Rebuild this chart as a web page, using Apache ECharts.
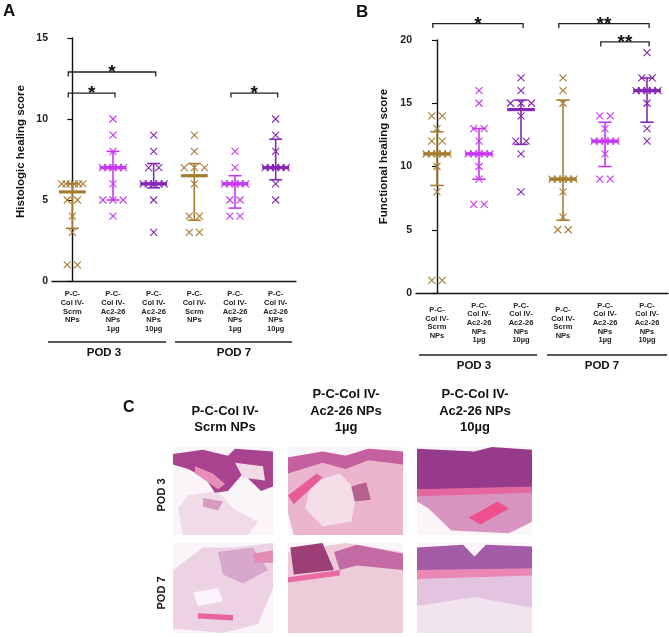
<!DOCTYPE html>
<html>
<head>
<meta charset="utf-8">
<script src="https://cdn.jsdelivr.net/npm/echarts@6/dist/echarts.min.js"></script>
<style>
html, body { margin: 0; padding: 0; background: #fff; }
#chart { width: 669px; height: 637px; }
</style>
</head>
<body>
<div id="chart"></div>
<script>
// groups on the x axis (same six for both panels)
const categories = [
    'P-C-\nCol IV-\nScrm\nNPs',
    'P-C-\nCol IV-\nAc2-26\nNPs\n1µg',
    'P-C-\nCol IV-\nAc2-26\nNPs\n10µg',
    'P-C-\nCol IV-\nScrm\nNPs',
    'P-C-\nCol IV-\nAc2-26\nNPs\n1µg',
    'P-C-\nCol IV-\nAc2-26\nNPs\n10µg'
];
const groupColors = ['#a67c2e', '#c837f5', '#8526b5', '#a67c2e', '#c837f5', '#8526b5'];
const podLabels = ['POD 3', 'POD 7'];

// A - histologic healing score, one list per animal group
const histoScores = [
    [6, 6, 6, 6, 6, 6, 5, 5, 4, 3, 1, 1],
    [10, 9, 8, 7, 7, 7, 7, 7, 6, 5, 5, 5, 4],
    [9, 8, 7, 7, 6, 6, 6, 6, 6, 5, 3],
    [9, 8, 7, 7, 7, 6, 4, 4, 3, 3],
    [8, 7, 6, 6, 6, 6, 6, 5, 5, 4, 4],
    [10, 9, 8, 7, 7, 7, 7, 7, 6, 5]
];
const histoMedian = [5.5, 7, 6, 6.5, 6, 7];
const histoLow = [3.25, 5, 5.75, 3.75, 4.5, 6.25];
const histoHigh = [6, 8, 7.25, 7.25, 6.5, 8.75];
// [from group, to group, height, stars]
const histoBrackets = [[0, 2, 12.9, '*'], [0, 1, 11.6, '*'], [4, 5, 11.6, '*']];

// B - functional healing score
const funcScores = [
    [14, 14, 13, 12, 12, 11, 11, 11, 11, 11, 10, 8, 1, 1],
    [16, 15, 13, 13, 12, 11, 11, 11, 11, 11, 10, 9, 7, 7],
    [17, 16, 15, 15, 15, 14, 12, 12, 11, 8],
    [17, 16, 15, 9, 9, 9, 9, 9, 8, 6, 5, 5],
    [14, 14, 13, 12, 12, 12, 12, 12, 11, 9, 9],
    [19, 17, 17, 16, 16, 16, 16, 16, 15, 13, 12]
];
const funcMedian = [11, 11, 14.5, 9, 12, 16];
const funcLow = [8.5, 9, 11.75, 5.75, 10, 13.5];
const funcHigh = [12.75, 13, 15.25, 15.25, 13.5, 17];
const funcBrackets = [[0, 2, 21.3, '*'], [3, 5, 21.3, '**'], [4, 5, 19.85, '**']];

const FONT = 'Liberation Sans, Arial, sans-serif';
const NARROW = 'Liberation Sans Narrow, Arial Narrow, Liberation Sans, sans-serif';
const CROSS = 'path://M0,0L10,10M10,0L0,10';

// equal scores sit side by side in a row, centred on the group
function spread(scores) {
    const counts = {};
    scores.forEach(v => counts[v] = (counts[v] || 0) + 1);
    const seen = {};
    return scores.map(v => {
        const n = counts[v];
        const k = seen[v] = (seen[v] || 0) + 1;
        const step = n === 1 ? 0 : n <= 3 ? 0.25 : 0.52 / (n - 1);
        return [(k - 1 - (n - 1) / 2) * step, v];
    });
}

function makePanel(xIdx, yIdx, scores, med, lo, hi, brackets) {
    const points = [];
    scores.forEach((list, i) => {
        spread(list).forEach(([dx, v]) => {
            points.push({ value: [i + dx, v], itemStyle: { borderColor: groupColors[i] } });
        });
    });
    return [
        {
            type: 'scatter', xAxisIndex: xIdx, yAxisIndex: yIdx,
            symbol: CROSS, symbolSize: 7,
            itemStyle: { color: 'rgba(0,0,0,0)', borderWidth: 1.1, opacity: 1 },
            data: points
        },
        {
            type: 'custom', xAxisIndex: xIdx, yAxisIndex: yIdx,
            data: med.map((m, i) => [i, m, lo[i], hi[i]]),
            renderItem(params, api) {
                const i = api.value(0);
                const mid = api.coord([i, api.value(1)]);
                const a = api.coord([i, api.value(2)]);
                const b = api.coord([i, api.value(3)]);
                const unit = api.size([1, 0])[0];
                const half = unit * 0.33, cap = unit * 0.16;
                const st = { stroke: groupColors[i], lineWidth: 1.6 };
                return {
                    type: 'group', children: [
                        { type: 'line', shape: { x1: a[0], y1: a[1], x2: b[0], y2: b[1] }, style: st },
                        { type: 'line', shape: { x1: a[0] - cap, y1: a[1], x2: a[0] + cap, y2: a[1] }, style: st },
                        { type: 'line', shape: { x1: b[0] - cap, y1: b[1], x2: b[0] + cap, y2: b[1] }, style: st },
                        { type: 'line', shape: { x1: mid[0] - half, y1: mid[1], x2: mid[0] + half, y2: mid[1] },
                          style: { stroke: groupColors[i], lineWidth: 3.2 } }
                    ]
                };
            }
        },
        {
            type: 'custom', xAxisIndex: xIdx, yAxisIndex: yIdx, clip: false,
            data: brackets.map(b => [b[0], b[1], b[2]]),
            renderItem(params, api) {
                const p1 = api.coord([api.value(0) - 0.1, api.value(2)]);
                const p2 = api.coord([api.value(1) + 0.05, api.value(2)]);
                return {
                    type: 'group', children: [
                        { type: 'polyline',
                          shape: { points: [[p1[0], p1[1] + 4.5], [p1[0], p1[1]], [p2[0], p2[1]], [p2[0], p2[1] + 4.5]] },
                          style: { stroke: '#222', lineWidth: 1.3, fill: null } },
                        { type: 'text',
                          style: { text: brackets[params.dataIndex][3], x: (p1[0] + p2[0]) / 2, y: p1[1] + 1,
                                   align: 'center', verticalAlign: 'middle',
                                   font: 'bold 19px ' + FONT, fill: '#111' } }
                    ]
                };
            }
        }
    ];
}

function catAxis(grid, labelStyle) {
    return {
        type: 'category', gridIndex: grid, data: categories,
        axisLine: { lineStyle: { color: '#111', width: 1.4 } },
        axisTick: { alignWithLabel: true, length: 4, lineStyle: { color: '#111', width: 1.2 } },
        axisLabel: Object.assign({
            interval: 0, fontSize: 7.5, lineHeight: 8.6, fontWeight: 'bold',
            fontFamily: NARROW, color: '#222'
        }, labelStyle)
    };
}

function valAxis(grid, max, name, gap, shift) {
    return {
        type: 'value', gridIndex: grid, min: 0, max: max, interval: 5,
        name: name, nameLocation: 'middle', nameGap: gap,
        nameTextStyle: { fontSize: 11.5, fontWeight: 'bold', fontFamily: FONT, color: '#111', padding: [0, 0, 0, shift] },
        axisLine: { show: true, lineStyle: { color: '#111', width: 1.4 } },
        axisTick: { show: true, length: 5, lineStyle: { color: '#111', width: 1.2 } },
        splitLine: { show: false },
        axisLabel: { fontSize: 10.5, fontWeight: 'bold', fontFamily: FONT, color: '#222', margin: 4 }
    };
}

// rough stand-ins for the H&E sections in panel C, points in 0..1 of each frame
const sections = [
    { x: 173, y: 447, w: 100, h: 88, shapes: [
        ['#f0dbe6', [[0.15, 0.55], [0.45, 0.5], [0.6, 0.7], [0.85, 0.85], [0.75, 1], [0.1, 1], [0.05, 0.7]]],
        ['#a9438f', [[0, 0.08], [0.3, 0.03], [0.55, 0.1], [0.62, 0.02], [1, 0.05], [1, 0.45], [0.88, 0.5], [0.7, 0.3], [0.55, 0.5], [0.42, 0.52], [0.32, 0.35], [0.15, 0.25], [0, 0.2]]],
        ['#e98dba', [[0.22, 0.22], [0.4, 0.3], [0.52, 0.42], [0.45, 0.48], [0.35, 0.4], [0.22, 0.3]]],
        ['#f1dbe5', [[0.62, 0.18], [0.9, 0.22], [0.92, 0.38], [0.7, 0.35]]],
        ['#d79bc0', [[0.3, 0.58], [0.5, 0.62], [0.45, 0.72], [0.3, 0.68]]]
    ] },
    { x: 288, y: 447, w: 115, h: 88, shapes: [
        ['#eab5cd', [[0, 0.12], [0.3, 0.05], [0.5, 0.1], [0.7, 0.02], [1, 0.05], [1, 1], [0.05, 1], [0, 0.75]]],
        ['#c65f9f', [[0, 0.12], [0.3, 0.05], [0.5, 0.1], [0.7, 0.02], [1, 0.05], [1, 0.2], [0.7, 0.15], [0.5, 0.25], [0.3, 0.18], [0, 0.3]]],
        ['#f4dde7', [[0.2, 0.4], [0.45, 0.3], [0.6, 0.5], [0.55, 0.85], [0.3, 0.9], [0.15, 0.7]]],
        ['#e55c98', [[0, 0.55], [0.25, 0.3], [0.3, 0.35], [0.05, 0.65]]],
        ['#b8608f', [[0.55, 0.45], [0.68, 0.4], [0.72, 0.6], [0.58, 0.62]]]
    ] },
    { x: 417, y: 447, w: 115, h: 88, shapes: [
        ['#d894c0', [[0, 0.45], [1, 0.45], [1, 0.85], [0.8, 0.98], [0.3, 0.95], [0.1, 0.7], [0, 0.62]]],
        ['#963a8c', [[0, 0.02], [0.5, 0.05], [0.65, 0.0], [1, 0.03], [1, 0.48], [0, 0.48]]],
        ['#e4689f', [[0, 0.48], [1, 0.45], [1, 0.52], [0, 0.56]]],
        ['#ef4f8a', [[0.45, 0.8], [0.7, 0.62], [0.8, 0.7], [0.55, 0.88]]]
    ] },
    { x: 173, y: 543, w: 100, h: 90, shapes: [
        ['#ecd2e3', [[0, 0.3], [0.3, 0.05], [0.6, 0.05], [1, 0.0], [1, 0.5], [0.85, 0.9], [0.5, 1], [0, 0.95]]],
        ['#d7a8cb', [[0.45, 0.1], [0.8, 0.05], [0.95, 0.3], [0.7, 0.45], [0.5, 0.35]]],
        ['#fbf4f8', [[0.2, 0.55], [0.45, 0.5], [0.5, 0.65], [0.25, 0.7]]],
        ['#e8649f', [[0.25, 0.78], [0.6, 0.8], [0.6, 0.86], [0.25, 0.84]]],
        ['#e48bb6', [[0.8, 0.12], [1, 0.08], [1, 0.22], [0.82, 0.22]]]
    ] },
    { x: 288, y: 543, w: 115, h: 90, shapes: [
        ['#edcbd9', [[0, 0.1], [0.5, 0.0], [1, 0.1], [1, 1], [0, 1]]],
        ['#9d3f77', [[0.02, 0.05], [0.3, 0.0], [0.4, 0.3], [0.05, 0.35]]],
        ['#c46aa5', [[0.4, 0.1], [0.6, 0.02], [1, 0.12], [1, 0.3], [0.6, 0.25], [0.45, 0.3]]],
        ['#e86aa0', [[0, 0.38], [0.45, 0.3], [0.45, 0.36], [0, 0.44]]]
    ] },
    { x: 417, y: 543, w: 115, h: 90, shapes: [
        ['#e2c3e0', [[0, 0.35], [1, 0.35], [1, 1], [0, 1]]],
        ['#a35ba8', [[0, 0.05], [0.4, 0.02], [0.5, 0.15], [0.6, 0.02], [1, 0.04], [1, 0.3], [0, 0.32]]],
        ['#ea87b5', [[0, 0.3], [1, 0.28], [1, 0.36], [0, 0.4]]],
        ['#f1e4ee', [[0, 0.7], [0.5, 0.6], [1, 0.72], [1, 1], [0, 1]]]
    ] }
];

const graphics = [
    { type: 'text', left: 3, top: 3, style: { text: 'A', font: 'bold 17px ' + FONT, fill: '#111' } },
    { type: 'text', left: 356, top: 4, style: { text: 'B', font: 'bold 17px ' + FONT, fill: '#111' } },
    { type: 'text', left: 123, top: 400, style: { text: 'C', font: 'bold 16px ' + FONT, fill: '#111' } }
];
// group rules and POD captions under A and B
[[48, 166, 175, 292, 342, 104, 234, 353], [419, 537, 547, 667, 355, 474, 602, 366]].forEach(r => {
    graphics.push(
        { type: 'line', shape: { x1: r[0], y1: r[4], x2: r[1], y2: r[4] }, style: { stroke: '#222', lineWidth: 1.6 } },
        { type: 'line', shape: { x1: r[2], y1: r[4], x2: r[3], y2: r[4] }, style: { stroke: '#222', lineWidth: 1.6 } },
        { type: 'text', x: r[5], y: r[7], style: { text: podLabels[0], font: 'bold 11.5px ' + FONT, fill: '#111', align: 'center', verticalAlign: 'middle' } },
        { type: 'text', x: r[6], y: r[7], style: { text: podLabels[1], font: 'bold 11.5px ' + FONT, fill: '#111', align: 'center', verticalAlign: 'middle' } }
    );
});
// panel C headers and row labels
[['P-C-Col IV-\nScrm NPs', 225], ['P-C-Col IV-\nAc2-26 NPs\n1µg', 346], ['P-C-Col IV-\nAc2-26 NPs\n10µg', 475]].forEach(h => {
    graphics.push({ type: 'text', x: h[1], y: 436, style: {
        text: h[0], font: 'bold 13px ' + FONT, lineHeight: 16.5, fill: '#111', align: 'center', verticalAlign: 'bottom' } });
});
[[podLabels[0], 495], [podLabels[1], 593]].forEach(r => {
    graphics.push({ type: 'text', x: 162, y: r[1], rotation: Math.PI / 2, style: {
        text: r[0], font: 'bold 11px ' + FONT, fill: '#111', align: 'center', verticalAlign: 'middle' } });
});
sections.forEach(s => {
    const children = [{ type: 'rect', shape: { x: 0, y: 0, width: s.w, height: s.h }, style: { fill: '#faf5f8' } }];
    s.shapes.forEach(([fill, pts]) => {
        children.push({ type: 'polygon', shape: { points: pts.map(p => [p[0] * s.w, p[1] * s.h]) }, style: { fill } });
    });
    graphics.push({ type: 'group', x: s.x, y: s.y, children });
});

const chart = echarts.init(document.getElementById('chart'));
chart.setOption({
    animation: false,
    backgroundColor: '#fff',
    grid: [
        { left: 52, top: 38, width: 244, height: 243 },
        { left: 416, top: 40, width: 252, height: 253 }
    ],
    xAxis: [
        catAxis(0, { margin: 9, verticalAlign: 'top' }),
        { type: 'value', gridIndex: 0, min: -0.5, max: 5.5, show: false },
        catAxis(1, { margin: 30, verticalAlign: 'middle' }),
        { type: 'value', gridIndex: 1, min: -0.5, max: 5.5, show: false }
    ],
    yAxis: [
        valAxis(0, 15, 'Histologic healing score', 25, 16),
        valAxis(1, 20, 'Functional healing score', 26, 20)
    ],
    series: [
        ...makePanel(1, 0, histoScores, histoMedian, histoLow, histoHigh, histoBrackets),
        ...makePanel(3, 1, funcScores, funcMedian, funcLow, funcHigh, funcBrackets)
    ],
    graphic: graphics
});
</script>
</body>
</html>
